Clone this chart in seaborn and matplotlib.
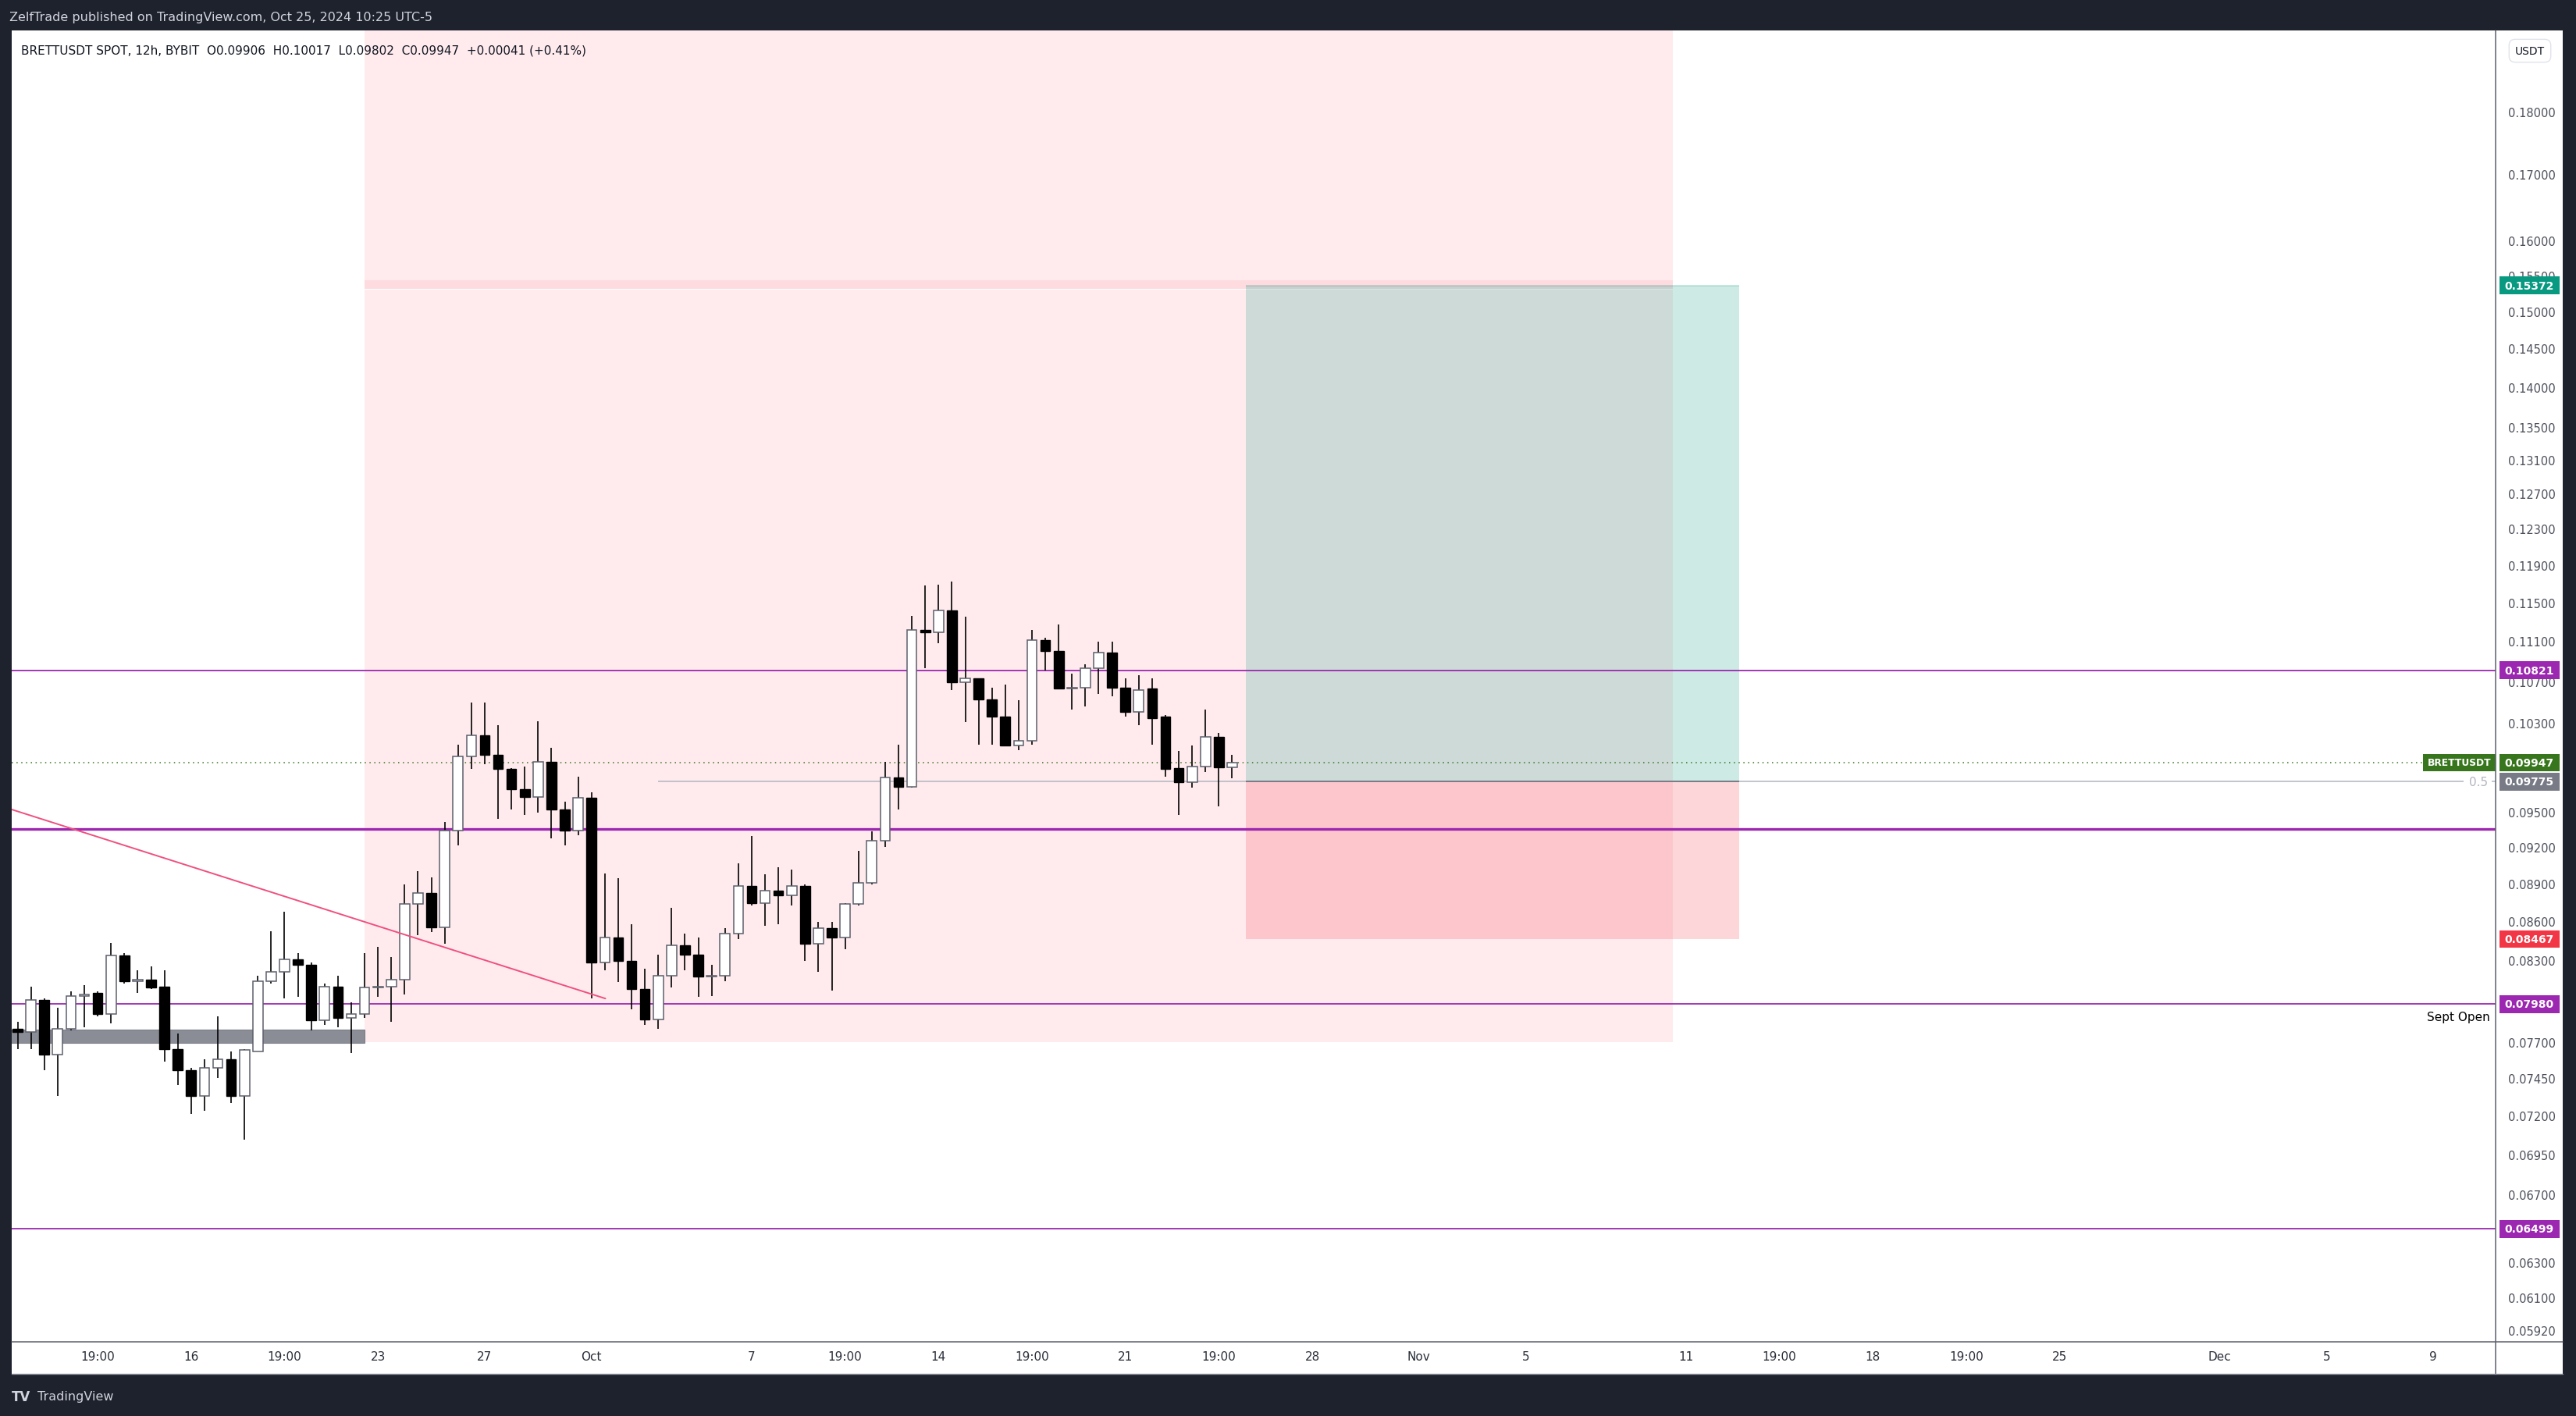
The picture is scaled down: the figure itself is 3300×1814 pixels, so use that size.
import numpy as np
import pandas as pd
import seaborn as sns
import matplotlib
matplotlib.use("Agg")
import matplotlib.pyplot as plt
from matplotlib.patches import Rectangle
from matplotlib.lines import Line2D
from matplotlib.ticker import NullLocator

sns.set_theme(style="white")
plt.rcParams['font.family'] = ['DejaVu Sans']

# BRETTUSDT 12h candles
opens = [0.0780, 0.0778, 0.0801, 0.0762, 0.0780, 0.0804, 0.0806, 0.0791, 0.0834, 0.0815,
         0.0816, 0.0811, 0.0766, 0.0751, 0.0734, 0.0753, 0.0759, 0.0734, 0.0764, 0.0815,
         0.0822, 0.0831, 0.0827, 0.0786, 0.0811, 0.0788, 0.0791, 0.0810, 0.0811, 0.0816,
         0.0874, 0.0883, 0.0856, 0.0935, 0.1000, 0.1020, 0.1002, 0.0989, 0.0971, 0.0964,
         0.0995, 0.0953, 0.0935, 0.0963, 0.0829, 0.0848, 0.0830, 0.0809, 0.0787, 0.0819,
         0.0842, 0.0835, 0.0818, 0.0819, 0.0851, 0.0889, 0.0875, 0.0885, 0.0881, 0.0889,
         0.0843, 0.0855, 0.0848, 0.0874, 0.0891, 0.0926, 0.0981, 0.0973, 0.1123, 0.1120,
         0.1143, 0.1070, 0.1074, 0.1054, 0.1037, 0.1010, 0.1015, 0.1112, 0.1101, 0.1064,
         0.1065, 0.1084, 0.1100, 0.1065, 0.1042, 0.1064, 0.1037, 0.0990, 0.0977, 0.0991,
         0.1018, 0.09906]
highs = [0.0785, 0.0811, 0.0802, 0.0795, 0.0807, 0.0812, 0.0807, 0.0844, 0.0836, 0.0823,
         0.0826, 0.0823, 0.0777, 0.0753, 0.0759, 0.0789, 0.0764, 0.0766, 0.0819, 0.0853,
         0.0868, 0.0836, 0.0829, 0.0813, 0.0819, 0.0799, 0.0836, 0.0841, 0.0833, 0.0890,
         0.0901, 0.0896, 0.0942, 0.1011, 0.1051, 0.1051, 0.1029, 0.0990, 0.0991, 0.1033,
         0.1008, 0.0960, 0.0982, 0.0968, 0.0899, 0.0895, 0.0858, 0.0824, 0.0835, 0.0871,
         0.0851, 0.0848, 0.0827, 0.0855, 0.0907, 0.0930, 0.0898, 0.0904, 0.0902, 0.0890,
         0.0860, 0.0860, 0.0875, 0.0918, 0.0934, 0.0995, 0.1011, 0.1137, 0.1169, 0.1170,
         0.1173, 0.1136, 0.1074, 0.1065, 0.1068, 0.1053, 0.1123, 0.1115, 0.1128, 0.1079,
         0.1088, 0.1111, 0.1111, 0.1074, 0.1077, 0.1074, 0.1039, 0.1005, 0.1010, 0.1044,
         0.1022, 0.10017]
lows = [0.0766, 0.0766, 0.0751, 0.0734, 0.0779, 0.0781, 0.0789, 0.0784, 0.0813, 0.0806,
        0.0809, 0.0757, 0.0741, 0.0722, 0.0724, 0.0746, 0.0729, 0.0705, 0.0764, 0.0813,
        0.0802, 0.0803, 0.0779, 0.0783, 0.0781, 0.0763, 0.0788, 0.0803, 0.0785, 0.0805,
        0.0850, 0.0852, 0.0843, 0.0922, 0.0989, 0.0993, 0.0945, 0.0953, 0.0948, 0.0950,
        0.0928, 0.0922, 0.0931, 0.0802, 0.0823, 0.0814, 0.0794, 0.0783, 0.0780, 0.0810,
        0.0823, 0.0803, 0.0804, 0.0815, 0.0847, 0.0873, 0.0857, 0.0858, 0.0873, 0.0830,
        0.0822, 0.0808, 0.0839, 0.0873, 0.0890, 0.0921, 0.0953, 0.0972, 0.1084, 0.1109,
        0.1063, 0.1032, 0.1011, 0.1011, 0.1010, 0.1006, 0.1011, 0.1082, 0.1064, 0.1044,
        0.1047, 0.1059, 0.1057, 0.1037, 0.1029, 0.1011, 0.0982, 0.0948, 0.0972, 0.0986,
        0.0956, 0.09802]
closes = [0.0778, 0.0801, 0.0762, 0.0780, 0.0804, 0.0805, 0.0791, 0.0834, 0.0815, 0.0816,
          0.0810, 0.0766, 0.0751, 0.0734, 0.0753, 0.0759, 0.0734, 0.0765, 0.0815, 0.0822,
          0.0831, 0.0827, 0.0786, 0.0811, 0.0788, 0.0791, 0.0810, 0.0811, 0.0816, 0.0874,
          0.0883, 0.0856, 0.0935, 0.1000, 0.1020, 0.1002, 0.0989, 0.0971, 0.0964, 0.0995,
          0.0953, 0.0935, 0.0963, 0.0829, 0.0848, 0.0830, 0.0809, 0.0787, 0.0819, 0.0842,
          0.0835, 0.0818, 0.0819, 0.0851, 0.0889, 0.0875, 0.0885, 0.0881, 0.0889, 0.0843,
          0.0855, 0.0848, 0.0874, 0.0891, 0.0926, 0.0981, 0.0973, 0.1123, 0.1120, 0.1143,
          0.1070, 0.1074, 0.1054, 0.1037, 0.1010, 0.1015, 0.1112, 0.1101, 0.1064, 0.1065,
          0.1084, 0.1100, 0.1065, 0.1042, 0.1063, 0.1036, 0.0989, 0.0977, 0.0991, 0.1018,
          0.09906, 0.09947]

first_bar = "2024-09-09 19:00"
t0 = pd.Timestamp("2024-09-01 07:00")   # day origin of the x axis

tick_times = ["2024-09-12 19:00", "2024-09-16 07:00", "2024-09-19 19:00", "2024-09-23 07:00",
              "2024-09-27 07:00", "2024-10-01 07:00", "2024-10-07 07:00", "2024-10-10 19:00",
              "2024-10-14 07:00", "2024-10-17 19:00", "2024-10-21 07:00", "2024-10-24 19:00",
              "2024-10-28 07:00", "2024-11-01 07:00", "2024-11-05 07:00", "2024-11-11 07:00",
              "2024-11-14 19:00", "2024-11-18 07:00", "2024-11-21 19:00", "2024-11-25 07:00",
              "2024-12-01 07:00", "2024-12-05 07:00", "2024-12-09 07:00"]
tick_labels = ["19:00", "16", "19:00", "23", "27", "Oct", "7", "19:00", "14", "19:00", "21",
               "19:00", "28", "Nov", "5", "11", "19:00", "18", "19:00", "25", "Dec", "5", "9"]

price_ticks = [0.18, 0.17, 0.16, 0.155, 0.15, 0.145, 0.14, 0.135, 0.131, 0.127, 0.123, 0.119,
               0.115, 0.111, 0.107, 0.103, 0.095, 0.092, 0.089, 0.086, 0.083, 0.077, 0.0745,
               0.072, 0.0695, 0.067, 0.063, 0.061, 0.0592]

# drawn levels
purple_levels = [0.10821, 0.07980, 0.06499]
key_level = 0.0936
last_price = 0.09947
entry, target, stop = 0.09775, 0.15372, 0.08467

# drawings: [start day, end day]
zone_days = [21.5, 70.5]
zone_low = 0.0771
band_days = [8.0, 21.5]
band_prices = [0.07704, 0.07796]
pos_days = [54.5, 73.0]
trend_days = [8.28, 30.52]
trend_prices = [0.0953, 0.0802]
fib_start = 32.5

W, H = 3300, 1815
def fx(px):
    return px / W
def fy(py):
    return 1 - py / H

ymin, ymax = 0.05863, 0.19401
xmin, xmax = 8.28, 101.33

fig = plt.figure(figsize=(33, 18.15), dpi=100, facecolor='#1e222d')
fig.patches.append(Rectangle((fx(15), fy(1761)), fx(3283 - 15), (1761 - 40) / H,
                             transform=fig.transFigure, fc='white', lw=0, zorder=-1))

ax = fig.add_axes([fx(15), fy(1720), fx(3197 - 15), (1720 - 40) / H])
ax.set_facecolor('white')
ax.set_yscale('log')
ax.set_ylim(ymin, ymax)
ax.set_xlim(xmin, xmax)
for s in ax.spines.values():
    s.set_visible(False)
ax.yaxis.set_major_locator(NullLocator())
ax.yaxis.set_minor_locator(NullLocator())
ax.tick_params(axis='y', which='both', left=False, right=False, labelleft=False)

tpos = ((pd.to_datetime(tick_times) - t0) / pd.Timedelta(days=1)).values
ax.set_xticks(tpos, tick_labels)
ax.tick_params(axis='x', length=0, pad=8, labelsize=11, labelcolor='#2a2e39')

# candles
o = np.array(opens); h = np.array(highs); l = np.array(lows); c = np.array(closes)
times = pd.date_range(first_bar, periods=len(o), freq="12h")
x = ((times - t0) / pd.Timedelta(days=1)).values
up = c >= o
bot = np.minimum(o, c)
hgt = np.maximum(np.abs(c - o), 0.0009 * bot)

ax.vlines(x, l, h, color='black', lw=1.2, zorder=3)
ax.bar(x[up], hgt[up], bottom=bot[up], width=0.37, color='white',
       edgecolor='#5d606b', linewidth=1.1, zorder=4)
ax.bar(x[~up], hgt[~up], bottom=bot[~up], width=0.37, color='black',
       edgecolor='black', linewidth=1.0, zorder=4)

# zones
ax.add_patch(Rectangle((zone_days[0], zone_low), zone_days[1] - zone_days[0], 0.3 - zone_low,
                       fc='#ffebee', lw=0, zorder=1))
ax.add_patch(Rectangle((zone_days[0], 0.1533), zone_days[1] - zone_days[0], 0.0012,
                       fc='#fddbdf', lw=0, zorder=1.1))
ax.hlines(0.15325, zone_days[0], zone_days[1], color='white', lw=0.8, zorder=1.2)
ax.add_patch(Rectangle((band_days[0], band_prices[0]), band_days[1] - band_days[0],
                       band_prices[1] - band_prices[0], fc='#8a8c96', ec='#7b7e88',
                       lw=0.8, zorder=1.5))

# long position tool
ax.add_patch(Rectangle((pos_days[0], entry), pos_days[1] - pos_days[0], target - entry,
                       fc=(8 / 255, 153 / 255, 129 / 255, 0.2), lw=0, zorder=2))
ax.add_patch(Rectangle((pos_days[0], stop), pos_days[1] - pos_days[0], entry - stop,
                       fc=(242 / 255, 54 / 255, 69 / 255, 0.2), lw=0, zorder=2))
ax.hlines(target, pos_days[0], pos_days[1], color='#089981', alpha=0.25, lw=1.2, zorder=2.1)
ax.hlines(entry, pos_days[0], pos_days[1], color='#787b86', lw=1.4, zorder=2.5)

# horizontal levels
ax.hlines(entry, fib_start, 100.13, color='#b2b5be', lw=1.1, zorder=2.2)
ax.hlines(entry, 101.18, xmax, color='#b2b5be', lw=1.1, zorder=2.2)
ax.text(100.69, entry, "0.5", ha='center', va='center', fontsize=11, color='#b2b5be', zorder=6)
for p in purple_levels:
    ax.axhline(p, color='#9c27b0', lw=1.3, zorder=2.6)
ax.axhline(key_level, color='#9c27b0', lw=2.4, zorder=2.6)
ax.axhline(last_price, color='#38761d', lw=1.1, ls=(0, (1, 3)), zorder=2.7)

# trend line
sns.lineplot(x=trend_days, y=trend_prices, ax=ax, color='#f0507f', lw=1.4, zorder=5)

ax.text(101.12, 0.0789, "Sept Open", ha='right', va='center', fontsize=11,
        color='black', zorder=6)

hh = 11.35 / 1403.8
def label_box(axis, x0, x1, price, color, text, xc, size=10):
    axis.add_patch(Rectangle((x0, price * np.exp(-hh)), x1 - x0,
                             price * (np.exp(hh) - np.exp(-hh)), fc=color, lw=0,
                             zorder=7, clip_on=False))
    axis.text(xc, price, text, ha='center', va='center', fontsize=size, color='white',
              fontweight='bold', zorder=8, clip_on=False)

label_box(ax, 98.61, xmax, last_price, '#38761d', "BRETTUSDT", 99.97, size=8.8)

# price scale
pax = fig.add_axes([fx(3197), fy(1720), fx(86), (1720 - 40) / H])
pax.set_yscale('log')
pax.set_ylim(ymin, ymax)
pax.set_xlim(0, 86)
pax.axis('off')
for p in price_ticks:
    pax.text(46, p, f"{p:.5f}", ha='center', va='center', fontsize=10.5,
             color='#4c4f5a', zorder=1)
label_box(pax, 4.7, 82, target, '#089981', f"{target:.5f}", 43.4)
label_box(pax, 4.7, 82, purple_levels[0], '#9c27b0', f"{purple_levels[0]:.5f}", 43.4)
label_box(pax, 4.7, 82, last_price, '#38761d', f"{last_price:.5f}", 43.4)
label_box(pax, 4.7, 82, entry, '#787b86', f"{entry:.5f}", 43.4)
label_box(pax, 4.7, 82, stop, '#f23645', f"{stop:.5f}", 43.4)
label_box(pax, 4.7, 82, purple_levels[1], '#9c27b0', f"{purple_levels[1]:.5f}", 43.4)
label_box(pax, 4.7, 82, purple_levels[2], '#9c27b0', f"{purple_levels[2]:.5f}", 43.4)
pax.text(44, 0.19045, "USDT", ha='center', va='center', fontsize=10, color='#131722',
         bbox=dict(boxstyle='round,pad=0.55', fc='white', ec='#e0e3eb', lw=1))

# frame lines
fig.lines.append(Line2D([fx(3197), fx(3197)], [fy(1761), fy(40)], transform=fig.transFigure,
                        color='#5d606b', lw=1.1, zorder=5))
fig.lines.append(Line2D([fx(15), fx(3283)], [fy(1720), fy(1720)], transform=fig.transFigure,
                        color='#5d606b', lw=1.1, zorder=5))
fig.lines.append(Line2D([fx(15), fx(3283)], [fy(1761), fy(1761)], transform=fig.transFigure,
                        color='#9598a1', lw=1.0, zorder=5))

# header / legend / footer
fig.text(fx(12), fy(23), "ZelfTrade published on TradingView.com, Oct 25, 2024 10:25 UTC-5",
         color='#d1d4dc', fontsize=11.5, va='center')
fig.text(fx(27), fy(65),
         "BRETTUSDT SPOT, 12h, BYBIT  O0.09906  H0.10017  L0.09802  C0.09947  +0.00041 (+0.41%)",
         color='#131722', fontsize=11, va='center', zorder=10)
fig.text(fx(15), fy(1790), "TV", color='#d1d4dc', fontsize=12, fontweight='bold', va='center')
fig.text(fx(48), fy(1790), "TradingView", color='#d1d4dc', fontsize=11.5, va='center')

fig.savefig('out.png', dpi=100, facecolor=fig.get_facecolor())
